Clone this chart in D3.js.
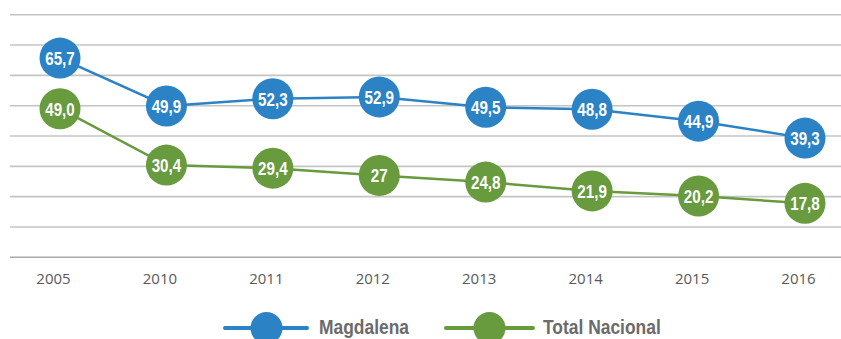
<!DOCTYPE html>
<html>
<head>
<meta charset="utf-8">
<script src="https://cdn.jsdelivr.net/npm/d3@7"></script>
<style>
  html, body { margin: 0; padding: 0; background: #fff; }
  svg { display: block; }
</style>
</head>
<body>
<svg id="chart" width="841" height="339"></svg>
<script>
// Years on the category axis
const years = ["2005", "2010", "2011", "2012", "2013", "2014", "2015", "2016"];
// Series values (percent)
const magdalena = [65.7, 49.9, 52.3, 52.9, 49.5, 48.8, 44.9, 39.3];
const totalNacional = [49.0, 30.4, 29.4, 27, 24.8, 21.9, 20.2, 17.8];
// Label text as printed in each marker
const magdalenaLabels = ["65,7", "49,9", "52,3", "52,9", "49,5", "48,8", "44,9", "39,3"];
const totalLabels = ["49,0", "30,4", "29,4", "27", "24,8", "21,9", "20,2", "17,8"];
const seriesNames = ["Magdalena", "Total Nacional"];
const yTicks = [0, 10, 20, 30, 40, 50, 60, 70, 80];

const blue = "#2b83c6";
const green = "#689a3e";

const svg = d3.select("#chart");

const x = d3.scalePoint().domain(years).range([53.5, 798.5]);
const markerShift = 6.5;
const y = d3.scaleLinear().domain([0, 80]).range([257.3, 14.7]);

// Horizontal gridlines
svg.append("g")
  .selectAll("line")
  .data(yTicks)
  .join("line")
  .attr("x1", 10)
  .attr("x2", 841)
  .attr("y1", d => y(d))
  .attr("y2", d => y(d))
  .attr("stroke", d => d === 0 ? "#a9a9a9" : "#c4c4c4")
  .attr("stroke-width", 1.6);

// Category labels
svg.append("g")
  .selectAll("text")
  .data(years)
  .join("text")
  .attr("x", d => x(d))
  .attr("y", 283.5)
  .attr("text-anchor", "middle")
  .attr("font-family", "'Open Sans', sans-serif")
  .attr("font-size", 15)
  .attr("fill", "#595959")
  .text(d => d);

const series = [
  { name: seriesNames[1], values: totalNacional, labels: totalLabels, color: green },
  { name: seriesNames[0], values: magdalena, labels: magdalenaLabels, color: blue }
];

const line = d3.line()
  .x((d, i) => x(years[i]) + markerShift)
  .y(d => y(d));

// Bold sans, narrowed horizontally for a condensed look
const labelFont = "'Liberation Sans', Arial, sans-serif";
const narrow = 0.8;

series.forEach(s => {
  const g = svg.append("g");
  g.append("path")
    .datum(s.values)
    .attr("d", line)
    .attr("fill", "none")
    .attr("stroke", s.color)
    .attr("stroke-width", 2.5);
  const pts = g.selectAll("g.pt")
    .data(s.values)
    .join("g")
    .attr("class", "pt")
    .attr("transform", (d, i) => `translate(${x(years[i]) + markerShift},${y(d)})`);
  pts.append("circle")
    .attr("r", 20.5)
    .attr("fill", s.color);
  pts.append("text")
    .attr("transform", `scale(${narrow},1)`)
    .attr("text-anchor", "middle")
    .attr("dy", "0.36em")
    .attr("font-family", labelFont)
    .attr("font-weight", "bold")
    .attr("font-size", 19)
    .attr("fill", "#fff")
    .text((d, i) => s.labels[i]);
});

// Legend
const legend = [
  { name: seriesNames[0], color: blue, x0: 225, x1: 307, cx: 266.5, tx: 319 },
  { name: seriesNames[1], color: green, x0: 446, x1: 533, cx: 489.5, tx: 543 }
];
const lg = svg.append("g");
legend.forEach(l => {
  lg.append("line")
    .attr("x1", l.x0).attr("x2", l.x1)
    .attr("y1", 328).attr("y2", 328)
    .attr("stroke", l.color)
    .attr("stroke-width", 4)
    .attr("stroke-linecap", "round");
  lg.append("circle")
    .attr("cx", l.cx).attr("cy", 328)
    .attr("r", 16)
    .attr("fill", l.color);
  lg.append("text")
    .attr("transform", `translate(${l.tx},334) scale(0.83,1)`)
    .attr("font-family", labelFont)
    .attr("font-weight", "bold")
    .attr("font-size", 21)
    .attr("fill", "#6b6b6b")
    .text(l.name);
});
</script>
</body>
</html>
